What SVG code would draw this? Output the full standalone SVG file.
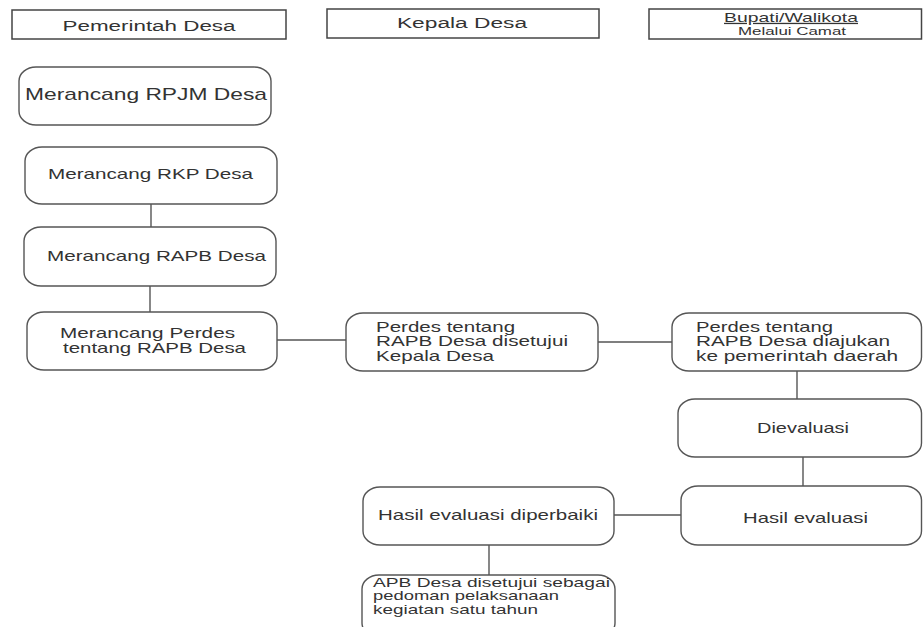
<svg xmlns="http://www.w3.org/2000/svg" width="923" height="627" viewBox="0 0 923 627">
  <style>
    .lane { fill: #ffffff; stroke: #444444; stroke-width: 1.5; }
    .box { fill: #ffffff; stroke: #555555; stroke-width: 1.4; }
    .wire { fill: none; stroke: #555555; stroke-width: 1.4; }
    text { font-family: "Liberation Sans", Arial, sans-serif; fill: #333333; }
    .h { font-size: 15px; text-anchor: middle; }
    .t { font-size: 14px; }
    .c { text-anchor: middle; }
    .big { font-size: 16px; }
    .sm { font-size: 13px; }
  </style>
  <rect width="923" height="627" fill="#ffffff"/>

  <!-- column headers; labels are set in a wide face via a horizontal scale -->
  <g id="lane-pemerintah">
    <rect class="lane" x="12" y="10" width="274" height="29"/>
    <text class="h" transform="translate(149 30.5) scale(1.45 1)" textLength="119.3" lengthAdjust="spacingAndGlyphs">Pemerintah Desa</text>
  </g>
  <g id="lane-kepala">
    <rect class="lane" x="327" y="9" width="272" height="29"/>
    <text class="h" transform="translate(462 28) scale(1.45 1)" textLength="89.7" lengthAdjust="spacingAndGlyphs">Kepala Desa</text>
  </g>
  <g id="lane-bupati">
    <rect class="lane" x="649" y="9" width="272.5" height="30"/>
    <text class="c" font-size="13" text-decoration="underline" transform="translate(791 22) scale(1.45 1)" textLength="92.4" lengthAdjust="spacingAndGlyphs">Bupati/Walikota</text>
    <text class="c" font-size="11.5" transform="translate(792 35) scale(1.45 1)" textLength="74.5" lengthAdjust="spacingAndGlyphs">Melalui Camat</text>
  </g>

  <!-- connectors -->
  <g id="connectors">
    <line class="wire" x1="151" y1="204" x2="151" y2="227"/>
    <line class="wire" x1="150" y1="286" x2="150" y2="312"/>
    <line class="wire" x1="277" y1="340" x2="346" y2="340"/>
    <line class="wire" x1="598" y1="342" x2="672" y2="342"/>
    <line class="wire" x1="797" y1="371" x2="797" y2="399"/>
    <line class="wire" x1="803" y1="457" x2="803" y2="486"/>
    <line class="wire" x1="614" y1="515" x2="681" y2="515"/>
    <line class="wire" x1="489" y1="545" x2="489" y2="575"/>
  </g>

  <!-- Pemerintah Desa column -->
  <g id="rpjm">
    <rect class="box" x="19" y="67" width="252" height="58" rx="17" ry="14"/>
    <text class="big c" transform="translate(146 100) scale(1.45 1)" textLength="166.9" lengthAdjust="spacingAndGlyphs">Merancang RPJM Desa</text>
  </g>
  <g id="rkp">
    <rect class="box" x="25" y="147" width="252" height="57" rx="17" ry="14"/>
    <text class="t c" transform="translate(150.5 179) scale(1.45 1)" textLength="141.4" lengthAdjust="spacingAndGlyphs">Merancang RKP Desa</text>
  </g>
  <g id="rapb">
    <rect class="box" x="24" y="227" width="252" height="59" rx="17" ry="14"/>
    <text class="t" transform="translate(47 261) scale(1.45 1)" textLength="151" lengthAdjust="spacingAndGlyphs">Merancang RAPB Desa</text>
  </g>
  <g id="perdes">
    <rect class="box" x="27" y="312" width="250" height="58" rx="17" ry="14"/>
    <text class="t" transform="translate(60 338) scale(1.45 1)" textLength="120.7" lengthAdjust="spacingAndGlyphs">Merancang Perdes</text>
    <text class="t" transform="translate(63 353) scale(1.45 1)" textLength="126.2" lengthAdjust="spacingAndGlyphs">tentang RAPB Desa</text>
  </g>

  <!-- Kepala Desa column -->
  <g id="disetujui">
    <rect class="box" x="346" y="313" width="252" height="58" rx="17" ry="14"/>
    <text class="t" transform="translate(376 331.5) scale(1.45 1)" textLength="95.9" lengthAdjust="spacingAndGlyphs">Perdes tentang</text>
    <text class="t" transform="translate(376 346) scale(1.45 1)" textLength="132.4" lengthAdjust="spacingAndGlyphs">RAPB Desa disetujui</text>
    <text class="t" transform="translate(376 360.5) scale(1.45 1)" textLength="81.4" lengthAdjust="spacingAndGlyphs">Kepala Desa</text>
  </g>
  <g id="diperbaiki">
    <rect class="box" x="363" y="487" width="251" height="58" rx="17" ry="14"/>
    <text class="t c" transform="translate(488 520) scale(1.45 1)" textLength="151.7" lengthAdjust="spacingAndGlyphs">Hasil evaluasi diperbaiki</text>
  </g>
  <g id="apb">
    <rect class="box" x="362" y="575" width="253" height="62" rx="17" ry="14"/>
    <text class="sm" transform="translate(373 586.5) scale(1.45 1)" textLength="163.4" lengthAdjust="spacingAndGlyphs">APB Desa disetujui sebagai</text>
    <text class="sm" transform="translate(373 600) scale(1.45 1)" textLength="128.3" lengthAdjust="spacingAndGlyphs">pedoman pelaksanaan</text>
    <text class="sm" transform="translate(373 613.5) scale(1.45 1)" textLength="113.8" lengthAdjust="spacingAndGlyphs">kegiatan satu tahun</text>
  </g>

  <!-- Bupati/Walikota column -->
  <g id="diajukan">
    <rect class="box" x="672" y="313" width="249.5" height="58" rx="17" ry="14"/>
    <text class="t" transform="translate(696 331.5) scale(1.45 1)" textLength="94.5" lengthAdjust="spacingAndGlyphs">Perdes tentang</text>
    <text class="t" transform="translate(696 346) scale(1.45 1)" textLength="133.8" lengthAdjust="spacingAndGlyphs">RAPB Desa diajukan</text>
    <text class="t" transform="translate(696 360.5) scale(1.45 1)" textLength="139.3" lengthAdjust="spacingAndGlyphs">ke pemerintah daerah</text>
  </g>
  <g id="dievaluasi">
    <rect class="box" x="678" y="399" width="243.5" height="58" rx="17" ry="14"/>
    <text class="t c" transform="translate(803 433) scale(1.45 1)" textLength="63.4" lengthAdjust="spacingAndGlyphs">Dievaluasi</text>
  </g>
  <g id="hasil">
    <rect class="box" x="681" y="486" width="240.5" height="59" rx="17" ry="14"/>
    <text class="t c" transform="translate(805.5 523) scale(1.45 1)" textLength="86.2" lengthAdjust="spacingAndGlyphs">Hasil evaluasi</text>
  </g>
</svg>
